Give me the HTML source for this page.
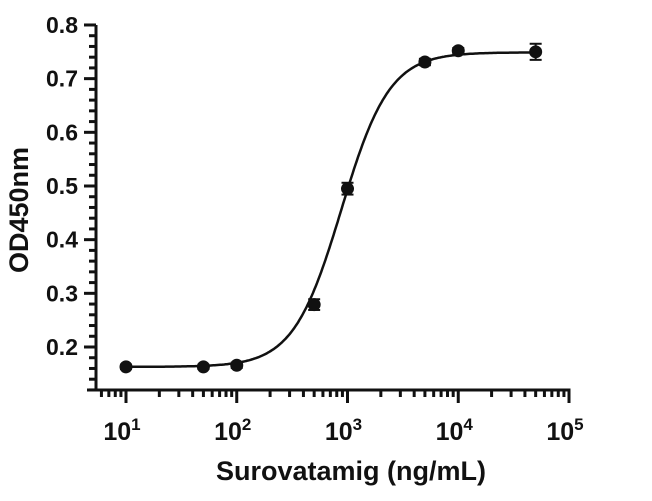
<!DOCTYPE html>
<html><head><meta charset="utf-8"><style>
body{margin:0;background:#fff}
svg text{font-family:"Liberation Sans",sans-serif;font-weight:bold;fill:#111}
</style></head><body>
<svg id="c" width="652" height="496"></svg>
<script>
const concentrations=[10,50,100,500,1000,5000,10000,50000];
const odValues=[0.163,0.163,0.166,0.279,0.495,0.731,0.752,0.750];
const errValues=[0.004,0.004,0.005,0.010,0.011,0.006,0.005,0.015];
const yTicks=[0.2,0.3,0.4,0.5,0.6,0.7,0.8];
const xExps=[1,2,3,4,5];
const fitBottom=0.163,fitTop=0.749,fitEC50=880,fitHill=2.0;
const svg=document.getElementById('c');const NS='http://www.w3.org/2000/svg';
function el(t,a,p){const e=document.createElementNS(NS,t);for(const k in a)e.setAttribute(k,a[k]);(p||svg).appendChild(e);return e;}
const X=v=>126+(Math.log10(v)-1)*110.75;
const Y=v=>347-(v-0.2)*536.7;
const ax=el('g',{});
el('line',{x1:96,y1:Y(0.8),x2:96,y2:391,stroke:'#111','stroke-width':3},ax);
el('line',{x1:87,y1:390,x2:X(1e5)+1.5,y2:390,stroke:'#111','stroke-width':3},ax);
for(let i=0;i<=34;i++){const v=0.12+i*0.02;if(v>0.8001)break;const major=Math.abs((v*10)-Math.round(v*10))<1e-6;
el('line',{x1:major?84:89,y1:Y(v),x2:96,y2:Y(v),stroke:'#111','stroke-width':3},ax);}
yTicks.forEach(v=>{const t=el('text',{x:78,y:Y(v)+8,'text-anchor':'end','font-size':23},ax);t.textContent=v.toFixed(1);
});
for(let e=0;e<5;e++){for(let m=1;m<10;m++){const v=Math.pow(10,e)*m;if(v<6||v>1e5)continue;const x=X(v);
el('line',{x1:x,y1:390,x2:x,y2:m==1?403:397,stroke:'#111','stroke-width':3},ax);}}
el('line',{x1:X(1e5),y1:390,x2:X(1e5),y2:403,stroke:'#111','stroke-width':3},ax);
xExps.forEach(p=>{const g=el('text',{x:X(Math.pow(10,p))-4,y:440,'text-anchor':'middle','font-size':25},ax);

g.textContent='10';const s=el('tspan',{dy:-10,'font-size':17},g);s.textContent=p;});
const yt=el('text',{x:0,y:0,transform:'translate(28,210) rotate(-90)','text-anchor':'middle','font-size':27});yt.textContent='OD450nm';

const xt=el('text',{x:351,y:480,'text-anchor':'middle','font-size':27});xt.textContent='Surovatamig (ng/mL)';

let d='';for(let i=0;i<=300;i++){const lv=1+i*(Math.log10(50000)-1)/300;const v=Math.pow(10,lv);
const y=fitBottom+(fitTop-fitBottom)/(1+Math.pow(fitEC50/v,fitHill));d+=(i?'L':'M')+X(v).toFixed(1)+','+Y(y).toFixed(1);}
const fl=el('path',{d:d,fill:'none',stroke:'#111','stroke-width':2.5});

concentrations.forEach((c,i)=>{const x=X(c),y=Y(odValues[i]),e=errValues[i]*536.7;
const g=el('g',{});
el('line',{x1:x,y1:y-e,x2:x,y2:y+e,stroke:'#111','stroke-width':2},g);
el('line',{x1:x-6,y1:y-e,x2:x+6,y2:y-e,stroke:'#111','stroke-width':2},g);
el('line',{x1:x-6,y1:y+e,x2:x+6,y2:y+e,stroke:'#111','stroke-width':2},g);
el('circle',{cx:x,cy:y,r:6.5,fill:'#111'},g);});
</script>
</body></html>
